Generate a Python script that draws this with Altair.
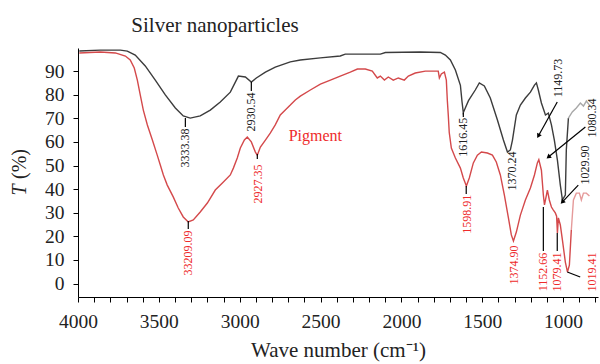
import altair as alt
import pandas as pd

# ---- data ----
silver_wn = [3992, 3862, 3738, 3695, 3646, 3584, 3522, 3460, 3398, 3349, 3306, 3244, 3182, 3120, 3058,
             3008, 2965, 2928, 2897, 2841, 2780, 2687, 2625, 2501, 2378, 2347, 2130, 2099, 1883, 1759,
             1728, 1697, 1666, 1635, 1625, 1617, 1604, 1585, 1543, 1518, 1487, 1450, 1406, 1369, 1344,
             1326, 1313, 1289, 1264, 1233, 1202, 1177, 1165, 1153, 1134, 1109, 1091, 1072, 1054, 1035,
             1017, 1004, 986, 980, 967]
silver_T = [98.5, 98.9, 98.9, 98.5, 96.8, 92.2, 86.2, 79.9, 74.4, 71.0, 70.1, 71.0, 73.5, 76.9, 81.1,
            87.9, 87.5, 85.4, 87.1, 89.6, 91.7, 93.9, 94.7, 95.6, 96.4, 97.2, 97.2, 97.9, 98.1, 97.9,
            96.8, 94.7, 90.5, 84.0, 77.0, 72.4, 74.5, 77.5, 82.0, 85.0, 83.7, 78.6, 69.3, 60.8, 55.7,
            56.6, 60.8, 71.4, 75.6, 78.6, 81.1, 84.1, 85.0, 82.0, 76.5, 71.4, 72.2, 67.2, 60.8, 52.3,
            41.7, 35.4, 37.5, 56.6, 70.1]
silver_tail_wn = [967, 943, 918, 893, 874, 856, 837]
silver_tail_T = [70.1, 72.7, 74.4, 76.5, 75.2, 77.3, 75.6]

pigment_wn = [3992, 3862, 3769, 3707, 3677, 3652, 3633, 3615, 3596, 3571, 3540, 3510, 3491, 3472, 3448,
              3411, 3380, 3349, 3318, 3287, 3244, 3200, 3151, 3107, 3058, 3039, 3015, 2996, 2971, 2953,
              2928, 2903, 2891, 2872, 2841, 2810, 2780, 2749, 2718, 2687, 2656, 2625, 2563, 2501, 2439,
              2378, 2316, 2272, 2223, 2180, 2149, 2130, 2105, 2081, 2050, 2019, 1982, 1957, 1914, 1852,
              1790, 1772, 1765, 1753, 1734, 1722, 1716, 1710, 1704, 1691, 1666, 1635, 1617, 1598, 1580,
              1555, 1530, 1505, 1468, 1437, 1413, 1388, 1363, 1338, 1320, 1307, 1289, 1264, 1233, 1202,
              1177, 1159, 1150, 1134, 1122, 1115, 1103, 1097, 1085, 1072, 1060, 1048, 1040, 1035, 1029,
              1017, 1004, 986, 973, 961, 949]
pigment_T = [97.7, 98.1, 97.7, 96.4, 94.7, 91.3, 86.2, 79.9, 73.5, 67.2, 60.8, 54.4, 50.2, 46.0, 41.7,
             36.7, 32.0, 28.2, 26.1, 26.9, 30.3, 34.1, 39.6, 42.6, 46.0, 48.9, 53.2, 57.4, 60.8, 62.1,
             60.0, 55.7, 54.4, 57.8, 60.8, 63.8, 67.2, 71.4, 73.5, 75.6, 77.8, 79.4, 82.0, 84.5, 86.2,
             87.9, 89.6, 90.9, 90.9, 90.0, 87.1, 87.9, 86.2, 87.5, 86.2, 87.1, 86.2, 87.9, 89.2, 90.0,
             90.0, 90.0, 87.1, 88.8, 89.6, 86.2, 77.8, 71.4, 64.0, 57.4, 53.2, 48.9, 44.7, 41.3, 44.7,
             51.1, 54.4, 55.7, 55.3, 54.4, 51.5, 46.0, 37.5, 27.8, 20.6, 18.0, 21.8, 29.0, 35.4, 40.5,
             46.0, 51.1, 52.5, 48.0, 37.5, 33.3, 37.5, 39.6, 35.4, 32.4, 31.1, 29.9, 28.5, 21.4, 27.8,
             24.8, 18.4, 9.1, 4.9, 7.8, 22.7]
pigment_tail_wn = [949, 936, 918, 899, 887, 874, 856, 837]
pigment_tail_T = [22.7, 35.4, 38.3, 38.3, 35.4, 38.3, 38.3, 37.1]

# peak labels (text, label anchor wavenumber, label anchor T)
silver_labels = ["3333.38", "2930.54", "1616.45", "1370.24", "1149.73", "1080.34", "1029.90"]
silver_label_wn = [3341, 2928, 1617, 1314, 1030, 819, 863]
silver_label_T = [57.4, 72.7, 62.0, 47.7, 87.1, 70.1, 50.2]

pigment_labels = ["33209.09", "2927.35", "1598.91", "1374.90", "1152.66", "1079.41", "1019.41"]
pigment_label_wn = [3318, 2885, 1592, 1301, 1122, 1036, 819]
pigment_label_T = [12.9, 42.2, 29.4, 7.8, 4.9, 4.9, 4.9]

# leader lines
leader_wn = [3336, 2928, 1617, 3318, 2891, 1599, 1122, 1036, 974]
leader_wn2 = [3336, 2928, 1617, 3318, 2891, 1599, 1122, 1036, 894]
leader_T = [70.1, 85.4, 72.4, 26.5, 54.9, 41.3, 32.4, 21.4, 4.9]
leader_T2 = [66.3, 81.6, 70.6, 23.1, 52.8, 37.9, 13.8, 13.8, 2.75]

# arrows (tail -> head)
arrow_wn = [1036, 862, 906]
arrow_T = [76.9, 66.3, 41.7]
arrow_wn2 = [1153, 1091, 1005]
arrow_T2 = [62.5, 53.6, 34.5]
arrow_angle = [209, 231, 223]

x_ticks = list(range(800, 4001, 100))
y_ticks = list(range(0, 91, 10))

FONT = "Liberation Serif"

# ---- tables ----
rows = []
for name, wn, T in [("silver", silver_wn, silver_T), ("silver_tail", silver_tail_wn, silver_tail_T),
                    ("pigment", pigment_wn, pigment_T), ("pigment_tail", pigment_tail_wn, pigment_tail_T)]:
    for i, (w, t) in enumerate(zip(wn, T)):
        rows.append({"wn": w, "T": t, "series": name, "order": i})
curves = pd.DataFrame(rows)

labels = pd.DataFrame(
    [{"text": s, "wn": w, "T": t, "grp": "silver"} for s, w, t in zip(silver_labels, silver_label_wn, silver_label_T)]
    + [{"text": s, "wn": w, "T": t, "grp": "pigment"} for s, w, t in zip(pigment_labels, pigment_label_wn, pigment_label_T)]
)
leaders = pd.DataFrame({"wn": leader_wn, "wn2": leader_wn2, "T": leader_T, "T2": leader_T2})
arrows = pd.DataFrame({"wn": arrow_wn, "wn2": arrow_wn2, "T": arrow_T, "T2": arrow_T2, "angle": arrow_angle})

xscale = alt.Scale(domain=[784, 4000], reverse=True, nice=False, zero=False)
yscale = alt.Scale(domain=[-5.72, 99.8], nice=False, zero=False)

xaxis = alt.Axis(values=x_ticks, labelExpr="datum.value % 500 === 0 ? format(datum.value, 'd') : ''",
                 title="Wave number (cm⁻¹)", grid=False, tickSize=5, tickColor="black",
                 domainColor="black", labelFont=FONT, labelFontSize=19.5, labelColor="#222",
                 labelPadding=10, titleFont=FONT, titleFontSize=21, titleFontWeight="normal",
                 titleColor="#222", titlePadding=9, labelFlush=False, labelOverlap=False,
                 labelBound=False)
yaxis = alt.Axis(values=y_ticks, title=None, grid=False, tickSize=5, tickColor="black",
                 domainColor="black", labelFont=FONT, labelFontSize=19.5, labelColor="#222",
                 labelPadding=9, labelOverlap=False, labelBound=False)


def X(field):
    return alt.X(field, type="quantitative", scale=xscale, axis=xaxis)


def Y(field):
    return alt.Y(field, type="quantitative", scale=yscale, axis=yaxis)


base = alt.Chart(curves)
lines = base.mark_line(strokeWidth=1.4).encode(
    x=X("wn"),
    y=Y("T"),
    color=alt.Color("series:N", legend=None,
                    scale=alt.Scale(domain=["silver", "silver_tail", "pigment", "pigment_tail"],
                                    range=["#3c3c3c", "#a8a8a8", "#d4494b", "#e59a9a"])),
    detail="series:N",
    order="order:Q",
)

lbl = alt.Chart(labels).mark_text(angle=270, align="center", baseline="middle", font=FONT, fontSize=12).encode(
    x=X("wn"),
    y=Y("T"),
    text="text:N",
    color=alt.Color("grp:N", legend=None, scale=alt.Scale(domain=["silver", "pigment"], range=["#222222", "#ee2b2b"])),
)

lead = alt.Chart(leaders).mark_rule(color="black", strokeWidth=1.2).encode(
    x=X("wn"), x2="wn2:Q",
    y=Y("T"), y2="T2:Q",
)

arr = alt.Chart(arrows).mark_rule(color="black", strokeWidth=1.2).encode(
    x=X("wn"), x2="wn2:Q",
    y=Y("T"), y2="T2:Q",
)
heads = alt.Chart(arrows).mark_point(shape="triangle-up", filled=True, color="black", size=28, opacity=1).encode(
    x=X("wn2"),
    y=Y("T2"),
    angle=alt.Angle("angle:Q", scale=None),
)

pig_txt = alt.Chart(pd.DataFrame({"t": ["Pigment"], "wn": [2532], "T": [62.5]})).mark_text(
    font=FONT, fontSize=16, color="#ee2b2b", align="center", baseline="middle").encode(
    x=X("wn"), y=Y("T"), text="t:N")

title_txt = alt.Chart(pd.DataFrame({"t": ["Silver nanoparticles"]})).mark_text(
    font=FONT, fontSize=21, color="#222", align="center", baseline="alphabetic").encode(
    x=alt.value(137), y=alt.value(-16), text="t:N")

ytitle_T = alt.Chart(pd.DataFrame({"t": ["T"]})).mark_text(
    font=FONT, fontSize=20, fontStyle="italic", color="#222", angle=270, align="center", baseline="middle").encode(
    x=alt.value(-58), y=alt.value(142), text="t:N")
ytitle_pct = alt.Chart(pd.DataFrame({"t": ["(%)"]})).mark_text(
    font=FONT, fontSize=20, color="#222", angle=270, align="center", baseline="middle").encode(
    x=alt.value(-58), y=alt.value(116), text="t:N")

chart = alt.layer(lines, lead, arr, heads, lbl, pig_txt, title_txt, ytitle_T, ytitle_pct).resolve_scale(
    color="independent"
).properties(
    width=520, height=249,
    autosize=alt.AutoSizeParams(type="none"),
    padding={"left": 78, "top": 48, "right": 2, "bottom": 67},
    background="white",
).configure_view(stroke=None)

chart.save("out.html", embed_options={"renderer": "svg", "actions": False})
